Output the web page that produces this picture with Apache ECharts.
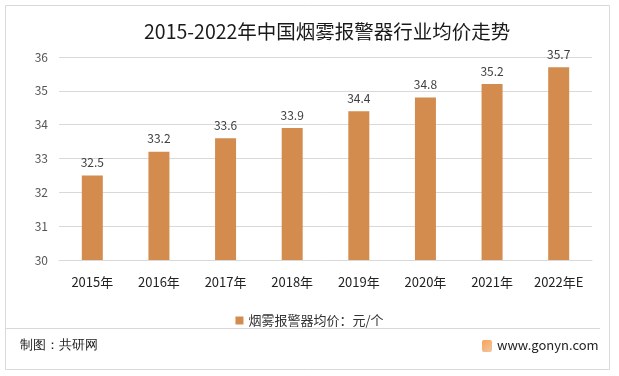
<!DOCTYPE html>
<html>
<head>
<meta charset="utf-8">
<script src="https://cdn.jsdelivr.net/npm/echarts@6/dist/echarts.min.js"></script>
<style>
  html, body { margin: 0; padding: 0; background: #fff; }
  #chart { width: 619px; height: 376px; }
</style>
</head>
<body>
<div id="chart"></div>
<script>
// 年份
const years = ['2015年', '2016年', '2017年', '2018年', '2019年', '2020年', '2021年', '2022年E'];
// 均价（元/个）
const prices = [32.5, 33.2, 33.6, 33.9, 34.4, 34.8, 35.2, 35.7];
const seriesName = '烟雾报警器均价：元/个';

const font = '"Noto Sans CJK SC", "Microsoft YaHei", sans-serif';
const chart = echarts.init(document.getElementById('chart'));

chart.setOption({
  backgroundColor: '#fff',
  title: {
    text: '2015-2022年中国烟雾报警器行业均价走势',
    left: 139,
    top: 17,
    textStyle: { fontSize: 19.5, fontWeight: 'normal', color: '#1a1a1a', fontFamily: font }
  },
  legend: {
    data: [seriesName],
    top: 309,
    left: 'center',
    itemWidth: 8,
    itemHeight: 8,
    itemGap: 4,
    icon: 'rect',
    textStyle: { fontSize: 13, color: '#333', fontFamily: font }
  },
  grid: { left: 59, right: 27, top: 57, bottom: 116, containLabel: false },
  xAxis: {
    type: 'category',
    data: years,
    axisLine: { lineStyle: { color: '#d9d9d9' } },
    axisTick: { show: false },
    axisLabel: { color: '#222', fontSize: 13, margin: 16, interval: 0, fontFamily: font }
  },
  yAxis: {
    type: 'value',
    min: 30,
    max: 36,
    interval: 1,
    axisLine: { show: false },
    axisTick: { show: false },
    axisLabel: { color: '#555', fontSize: 12, margin: 11, fontFamily: font },
    splitLine: { lineStyle: { color: '#d9d9d9' } }
  },
  series: [{
    name: seriesName,
    type: 'bar',
    data: prices,
    barWidth: 21,
    itemStyle: { color: '#d38c4e' },
    label: {
      show: true,
      position: 'top',
      distance: 7,
      color: '#404040',
      fontSize: 12,
      fontFamily: font
    }
  }],
  graphic: [
    // 外框
    { type: 'rect', shape: { x: 5.5, y: 5.5, width: 604, height: 364 },
      style: { fill: null, stroke: '#d9d9d9', lineWidth: 1 }, silent: true },
    // 分隔线
    { type: 'line', shape: { x1: 5, y1: 328.5, x2: 600, y2: 328.5 },
      style: { stroke: '#d9d9d9', lineWidth: 1 }, silent: true },
    { type: 'text', left: 20, top: 339,
      style: { text: '制图：共研网', fontSize: 13, fill: '#222', font: '13px ' + font } },
    { type: 'rect', shape: { x: 482, y: 340, width: 10, height: 12, r: 2 },
      style: { fill: new echarts.graphic.LinearGradient(0, 0, 1, 1, [
        { offset: 0, color: '#f9a25a' }, { offset: 1, color: '#f0c7a0' }]) } },
    { type: 'text', left: 497, top: 339,
      style: { text: 'www.gonyn.com', fill: '#222', font: '13px ' + font } }
  ]
});
</script>
</body>
</html>
